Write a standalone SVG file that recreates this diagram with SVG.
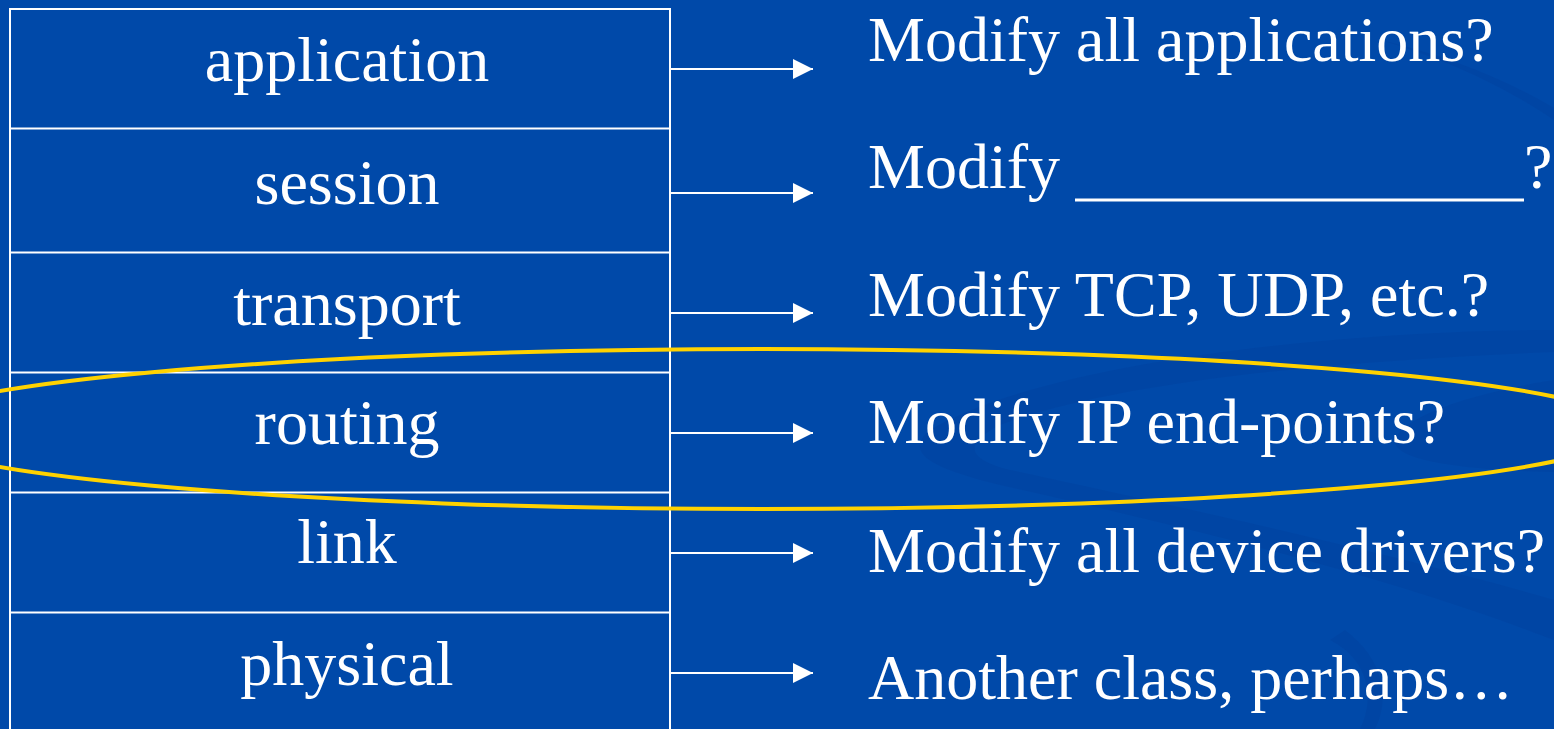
<svg xmlns="http://www.w3.org/2000/svg" width="1554" height="729" viewBox="0 0 1554 729">
  <style>
    .lbl { font-family: "Liberation Serif", "Times New Roman", serif; font-size: 64px; fill: #ffffff; }
    .mid { text-anchor: middle; }
    .box { fill: none; stroke: #ffffff; stroke-width: 2; }
    .conn { stroke: #ffffff; stroke-width: 2; fill: none; marker-end: url(#arrow); }
    .swirl { fill: #003f9c; opacity: 0.35; }
  </style>
  <defs>
    <marker id="arrow" markerUnits="userSpaceOnUse" markerWidth="20" markerHeight="20" refX="20" refY="10" orient="auto">
      <path d="M0,0 L20,10 L0,20 z" fill="#ffffff"/>
    </marker>
  </defs>
  <rect x="0" y="0" width="1554" height="729" fill="#0049a9"/>
  <g id="background-swirl">
    <path class="swirl" d="M1554,330 C1350,330 1050,360 930,430 C900,455 940,470 1000,485 C1200,530 1400,580 1554,640 L1554,600 C1400,555 1150,500 1010,470 C970,460 960,445 1000,425 C1120,380 1350,360 1554,352 z"/>
    <path class="swirl" d="M1554,380 C1460,395 1400,420 1395,440 C1392,460 1460,470 1554,472 z"/>
    <path class="swirl" d="M1330,640 C1370,660 1375,700 1360,729 L1375,729 C1390,700 1385,660 1345,630 z"/>
    <path class="swirl" d="M1380,40 C1450,60 1510,90 1554,120 L1554,108 C1500,76 1440,54 1380,40 z"/>
  </g>
  <g id="stack">
    <rect class="box" x="10" y="9" width="660" height="730"/>
    <g id="layer-application">
      <text class="lbl mid" x="347" y="81">application</text>
    </g>
    <g id="layer-session">
      <line class="box" x1="10" y1="128.5" x2="670" y2="128.5"/>
      <text class="lbl mid" x="347" y="204">session</text>
    </g>
    <g id="layer-transport">
      <line class="box" x1="10" y1="252.5" x2="670" y2="252.5"/>
      <text class="lbl mid" x="347" y="325">transport</text>
    </g>
    <g id="layer-routing">
      <line class="box" x1="10" y1="372.5" x2="670" y2="372.5"/>
      <text class="lbl mid" x="347" y="444">routing</text>
    </g>
    <g id="layer-link">
      <line class="box" x1="10" y1="492.5" x2="670" y2="492.5"/>
      <text class="lbl mid" x="347" y="563">link</text>
    </g>
    <g id="layer-physical">
      <line class="box" x1="10" y1="612.5" x2="670" y2="612.5"/>
      <text class="lbl mid" x="347" y="685">physical</text>
    </g>
  </g>
  <g id="connectors">
    <line class="conn" x1="671" y1="69" x2="813" y2="69"/>
    <line class="conn" x1="671" y1="193" x2="813" y2="193"/>
    <line class="conn" x1="671" y1="313" x2="813" y2="313"/>
    <line class="conn" x1="671" y1="433" x2="813" y2="433"/>
    <line class="conn" x1="671" y1="553" x2="813" y2="553"/>
    <line class="conn" x1="671" y1="673" x2="813" y2="673"/>
  </g>
  <g id="q-application">
    <text class="lbl" x="868" y="61">Modify all applications?</text>
  </g>
  <g id="q-session">
    <text class="lbl" x="868" y="188">Modify</text>
    <line x1="1075" y1="200" x2="1524" y2="200" stroke="#ffffff" stroke-width="3"/>
    <text class="lbl" x="1524" y="188">?</text>
  </g>
  <g id="q-transport">
    <text class="lbl" x="868" y="316">Modify TCP, UDP, etc.?</text>
  </g>
  <g id="q-routing">
    <text class="lbl" x="868" y="443">Modify IP end-points?</text>
  </g>
  <g id="q-link">
    <text class="lbl" x="868" y="572">Modify all device drivers?</text>
  </g>
  <g id="q-physical">
    <text class="lbl" x="868" y="699">Another class, perhaps…</text>
  </g>
  <g id="highlight">
    <ellipse cx="762" cy="429" rx="866" ry="80" fill="none" stroke="#ffd200" stroke-width="4"/>
  </g>
</svg>
